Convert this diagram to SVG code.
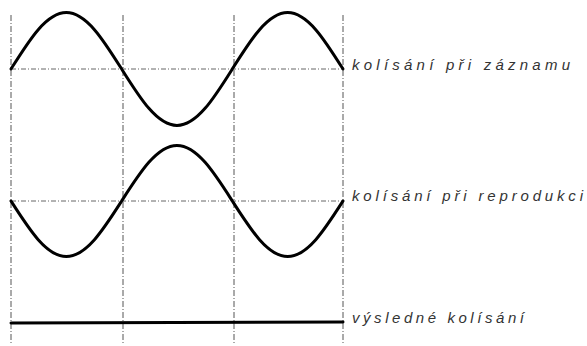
<svg xmlns="http://www.w3.org/2000/svg" width="587" height="346" viewBox="0 0 587 346">
<style>
.grid{stroke:#555;stroke-width:1;fill:none;stroke-dasharray:6 2 1 2}
.base{stroke:#666;stroke-width:1;fill:none;stroke-dasharray:5 2 1 2}
.wave{stroke:#000;stroke-width:3;fill:none;stroke-linejoin:round;stroke-linecap:round}
.lbl{font-family:"Liberation Sans",Arial,sans-serif;font-style:italic;font-size:15px;fill:#333}
</style>
<rect width="587" height="346" fill="#fff"/>
<g id="grid">
<line class="grid" x1="11" y1="15" x2="11" y2="345"/>
<line class="grid" x1="123" y1="15" x2="123" y2="345"/>
<line class="grid" x1="234" y1="15" x2="234" y2="345"/>
<line class="grid" x1="343" y1="15" x2="343" y2="345"/>
<line class="base" x1="11" y1="69" x2="343" y2="69"/>
<line class="base" x1="11" y1="201" x2="343" y2="201"/>
</g>
<g id="wave-record">
<path class="wave" d="M11,69 c18.05,-28.7 35.31,-56.5 55.33,-56.5 c20.02,0 37.28,27.8 55.33,56.5 c18.05,28.7 35.31,56.5 55.33,56.5 c20.02,0 37.28,-27.8 55.33,-56.5 c18.05,-28.7 35.31,-56.5 55.33,-56.5 c20.02,0 37.28,27.8 55.33,56.5"/>
<text class="lbl" x="352" y="70" textLength="218" lengthAdjust="spacing">kolísání při záznamu</text>
</g>
<g id="wave-playback">
<path class="wave" d="M11,201 c18.05,28.2 35.31,55.5 55.33,55.5 c20.02,0 37.28,-27.3 55.33,-55.5 c18.05,-28.2 35.31,-55.5 55.33,-55.5 c20.02,0 37.28,27.3 55.33,55.5 c18.05,28.2 35.31,55.5 55.33,55.5 c20.02,0 37.28,-27.3 55.33,-55.5"/>
<text class="lbl" x="352" y="201" textLength="231" lengthAdjust="spacing">kolísání při reprodukci</text>
</g>
<g id="result">
<line class="wave" x1="11" y1="323" x2="343" y2="322"/>
<text class="lbl" x="352" y="323" textLength="172" lengthAdjust="spacing">výsledné kolísání</text>
</g>
</svg>
